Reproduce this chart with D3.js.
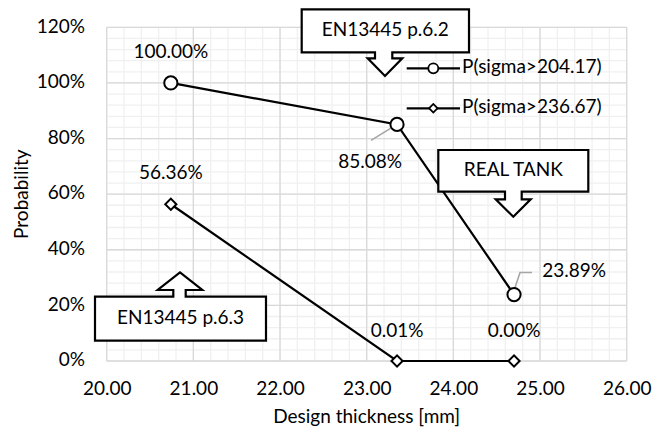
<!DOCTYPE html>
<html>
<head>
<meta charset="utf-8">
<script src="https://cdn.jsdelivr.net/npm/d3@7/dist/d3.min.js"></script>
<style>
  html, body { margin: 0; padding: 0; background: #fff; }
  svg { display: block; }
  text { font-family: Lato, "Liberation Sans", sans-serif; fill: #000; }
</style>
</head>
<body>
<svg id="chart" width="667" height="428"></svg>
<script>
// ---- data ----
const thickness = [20.74, 23.35, 24.70];
const pSigma204 = [1.0, 0.8508, 0.2389];
const pSigma237 = [0.5636, 0.0001, 0.0000];
const seriesNames = ["P(sigma>204.17)", "P(sigma>236.67)"];
const labels204 = ["100.00%", "85.08%", "23.89%"];
const labels237 = ["56.36%", "0.01%", "0.00%"];
const xTicks = [20, 21, 22, 23, 24, 25, 26];
const yTicks = [0, 0.2, 0.4, 0.6, 0.8, 1.0, 1.2];
const calloutTexts = ["EN13445 p.6.2", "REAL TANK", "EN13445 p.6.3"];
const xTitle = "Design thickness [mm]";
const yTitle = "Probability";

// ---- layout ----
const FS = 19;
const plot = { left: 106.7, right: 626.7, top: 27.3, bottom: 361 };
const svg = d3.select("#chart");
const x = d3.scaleLinear().domain([20, 26]).range([plot.left, plot.right]);
const y = d3.scaleLinear().domain([0, 1.2]).range([plot.bottom, plot.top]);

// minor grid
const minorX = d3.range(20, 26.0001, 0.2);
const minorY = d3.range(0, 1.20001, 0.04);
const g = svg.append("g");
g.selectAll(".mx").data(minorX).join("line")
  .attr("x1", d => x(d)).attr("x2", d => x(d))
  .attr("y1", plot.top).attr("y2", plot.bottom)
  .attr("stroke", "#f0f0f0").attr("stroke-width", 1.3);
g.selectAll(".my").data(minorY).join("line")
  .attr("y1", d => y(d)).attr("y2", d => y(d))
  .attr("x1", plot.left).attr("x2", plot.right)
  .attr("stroke", "#f0f0f0").attr("stroke-width", 1.3);
// major grid
g.selectAll(".Mx").data(xTicks).join("line")
  .attr("x1", d => x(d)).attr("x2", d => x(d))
  .attr("y1", plot.top).attr("y2", plot.bottom)
  .attr("stroke", "#d9d9d9").attr("stroke-width", 1.3);
g.selectAll(".My").data(yTicks).join("line")
  .attr("y1", d => y(d)).attr("y2", d => y(d))
  .attr("x1", plot.left).attr("x2", plot.right)
  .attr("stroke", "#d9d9d9").attr("stroke-width", 1.3);

// axes (tick labels)
const xAxis = d3.axisBottom(x).tickValues(xTicks).tickFormat(d3.format(".2f")).tickSize(0).tickPadding(0);
const xg = svg.append("g").attr("transform", `translate(0,${plot.bottom})`).call(xAxis);
xg.select(".domain").remove();
xg.selectAll("text").attr("font-size", FS).attr("dy", null).attr("y", 29)
  .attr("dominant-baseline", "middle").style("font-family", "Lato");

const yAxis = d3.axisLeft(y).tickValues(yTicks).tickFormat(d3.format(".0%")).tickSize(0).tickPadding(0);
const yg = svg.append("g").attr("transform", `translate(85,0)`).call(yAxis);
yg.select(".domain").remove();
yg.selectAll("text").attr("font-size", FS).attr("dy", null).attr("x", 0)
  .attr("dominant-baseline", "middle").style("font-family", "Lato");

// axis titles
svg.append("text").attr("x", (plot.left + plot.right) / 2).attr("y", 418)
  .attr("text-anchor", "middle").attr("dominant-baseline", "middle")
  .attr("font-size", FS).text(xTitle);
svg.append("text").attr("transform", `translate(23,${(plot.top + plot.bottom) / 2}) rotate(-90)`)
  .attr("text-anchor", "middle").attr("dominant-baseline", "middle")
  .attr("font-size", FS).text(yTitle);

// series lines
const line = d3.line();
const pts204 = thickness.map((t, i) => [x(t), y(pSigma204[i])]);
const pts237 = thickness.map((t, i) => [x(t), y(pSigma237[i])]);
svg.append("path").attr("d", line(pts204)).attr("fill", "none").attr("stroke", "#000").attr("stroke-width", 2.2);
svg.append("path").attr("d", line(pts237)).attr("fill", "none").attr("stroke", "#000").attr("stroke-width", 2.2);

// leader lines
const lead = svg.append("g").attr("stroke", "#a6a6a6").attr("stroke-width", 1.6).attr("fill", "none");
lead.append("path").attr("d", `M${pts204[1][0]},${pts204[1][1]} L${pts204[1][0] - 26},${pts204[1][1] + 16}`);
lead.append("path").attr("d", `M${pts204[2][0]},${pts204[2][1] - 4} L${pts204[2][0] + 6},${pts204[2][1] - 22} L${pts204[2][0] + 18},${pts204[2][1] - 22}`);

// markers
const diamond = d3.symbol().type(d3.symbolDiamond2).size(95);
svg.append("g").selectAll("circle").data(pts204).join("circle")
  .attr("cx", d => d[0]).attr("cy", d => d[1]).attr("r", 6.6)
  .attr("fill", "#fff").attr("stroke", "#000").attr("stroke-width", 2);
svg.append("g").selectAll("path").data(pts237).join("path")
  .attr("d", d3.symbol().type(d3.symbolSquare).size(62))
  .attr("transform", d => `translate(${d[0]},${d[1]}) rotate(45)`)
  .attr("fill", "#fff").attr("stroke", "#000").attr("stroke-width", 2);

// data labels (offsets from points)
const off204 = [[0, -30], [-27, 39], [60, -22]];
const off237 = [[0, -30], [0, -29], [0, -29]];
const lab = svg.append("g").attr("font-size", FS).attr("text-anchor", "middle").attr("dominant-baseline", "middle");
lab.selectAll(".a").data(pts204).join("text")
  .attr("x", (d, i) => d[0] + off204[i][0]).attr("y", (d, i) => d[1] + off204[i][1])
  .text((d, i) => labels204[i]);
lab.selectAll(".b").data(pts237).join("text")
  .attr("x", (d, i) => d[0] + off237[i][0]).attr("y", (d, i) => d[1] + off237[i][1])
  .text((d, i) => labels237[i]);

// legend
const legend = svg.append("g");
const legRows = [68.3, 108.3];
legRows.forEach((ly, i) => {
  legend.append("line").attr("x1", 406.7).attr("x2", 460).attr("y1", ly).attr("y2", ly)
    .attr("stroke", "#000").attr("stroke-width", 2.2);
  if (i === 0) {
    legend.append("circle").attr("cx", 433.3).attr("cy", ly).attr("r", 5)
      .attr("fill", "#fff").attr("stroke", "#000").attr("stroke-width", 1.8);
  } else {
    legend.append("path").attr("d", d3.symbol().type(d3.symbolSquare).size(36))
      .attr("transform", `translate(433.3,${ly}) rotate(45)`)
      .attr("fill", "#fff").attr("stroke", "#000").attr("stroke-width", 1.8);
  }
  legend.append("text").attr("x", 462).attr("y", ly).attr("dominant-baseline", "middle")
    .attr("font-size", FS).text(seriesNames[i]);
});

// callouts
function downCallout(b, sx1, sx2, sy, hx1, hx2, tipX, tipY) {
  return `M${b.x1},${b.y1} H${b.x2} V${b.y2} H${sx2} V${sy} H${hx2} L${tipX},${tipY} L${hx1},${sy} H${sx1} V${b.y2} H${b.x1} Z`;
}
function upCallout(b, sx1, sx2, sy, hx1, hx2, tipX, tipY) {
  return `M${b.x1},${b.y1} H${sx1} V${sy} H${hx1} L${tipX},${tipY} L${hx2},${sy} H${sx2} V${b.y1} H${b.x2} V${b.y2} H${b.x1} Z`;
}
const callouts = [
  { d: downCallout({x1: 301.7, x2: 469, y1: 9.3, y2: 52.3}, 375, 392.3, 58.3, 367.7, 402.3, 385, 76), tx: 385.3, ty: 31 },
  { d: downCallout({x1: 438.3, x2: 588.3, y1: 150, y2: 191.7}, 505, 521.7, 199.3, 495.7, 530.7, 513.3, 216.7), tx: 513.3, ty: 171 },
  { d: upCallout({x1: 95, x2: 266, y1: 296.7, y2: 340.7}, 173.3, 185.7, 290, 157.7, 202.3, 180, 272.3), tx: 180.5, ty: 319 }
];
const cg = svg.append("g");
callouts.forEach((c, i) => {
  cg.append("path").attr("d", c.d).attr("fill", "#fff").attr("stroke", "#000")
    .attr("stroke-width", 2.2).attr("stroke-linejoin", "miter");
  cg.append("text").attr("x", c.tx).attr("y", c.ty).attr("text-anchor", "middle")
    .attr("dominant-baseline", "middle").attr("font-size", FS).text(calloutTexts[i]);
});
</script>
</body>
</html>
